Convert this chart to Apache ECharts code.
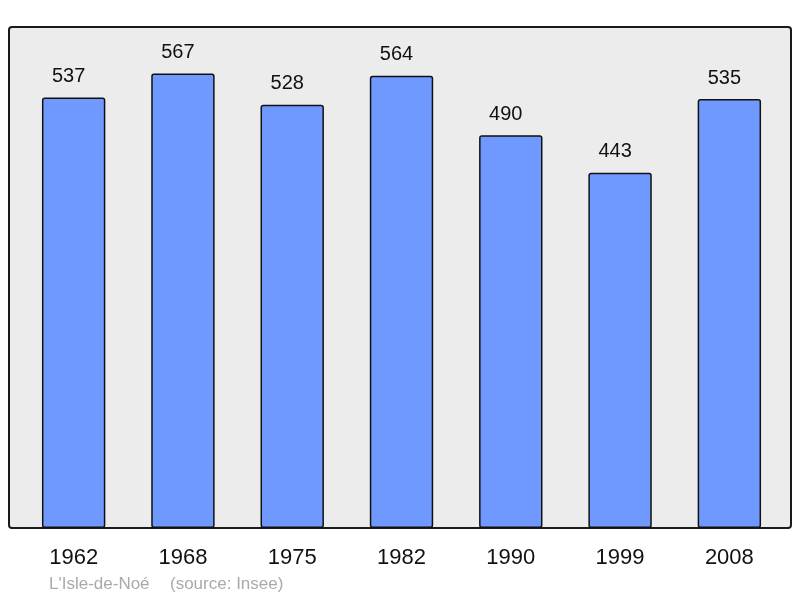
<!DOCTYPE html>
<html><head><meta charset="utf-8">
<script src="https://cdn.jsdelivr.net/npm/echarts@6/dist/echarts.min.js"></script>
<style>html,body{margin:0;padding:0;background:#fff;}#c{width:800px;height:598px;}</style>
</head><body><div id="c"></div>
<script>
const years = ['1962','1968','1975','1982','1990','1999','2008'];
const population = [537, 567, 528, 564, 490, 443, 535];
const placeName = "L'Isle-de-Noé";
const sourceText = '(source: Insee)';

const chart = echarts.init(document.getElementById('c'), null, {renderer: 'canvas'});
chart.setOption({
  animation: false,
  backgroundColor: '#ffffff',
  grid: {left: 19, right: 16, top: 28, bottom: 70},
  graphic: {
    elements: [
      {type: 'rect', z: -10, shape: {x: 9, y: 27, width: 782, height: 501, r: 3},
       style: {fill: '#ececec', stroke: '#1a1a1a', lineWidth: 2}},
      {type: 'text', left: 49, top: 576, style: {text: placeName, fill: '#aaaaaa', font: '17px "Liberation Sans", Arial, sans-serif'}},
      {type: 'text', left: 170, top: 576, style: {text: sourceText, fill: '#aaaaaa', font: '17px "Liberation Sans", Arial, sans-serif'}}
    ]
  },
  xAxis: {
    type: 'category', data: years,
    axisLine: {show: false}, axisTick: {show: false},
    axisLabel: {fontSize: 22, color: '#111', margin: 19, fontFamily: '"Liberation Sans", Arial, sans-serif'}
  },
  yAxis: {type: 'value', min: 0, max: 623.7, show: false, splitLine: {show: false}},
  series: [{
    type: 'bar', data: population, barWidth: '58%',
    itemStyle: {color: '#7099ff', borderColor: '#111', borderWidth: 1.5, borderRadius: 2},
    label: {show: true, position: 'top', distance: 11, fontSize: 20, color: '#111', offset: [-5, 0],
            fontFamily: '"Liberation Sans", Arial, sans-serif'}
  }]
});
</script></body></html>
